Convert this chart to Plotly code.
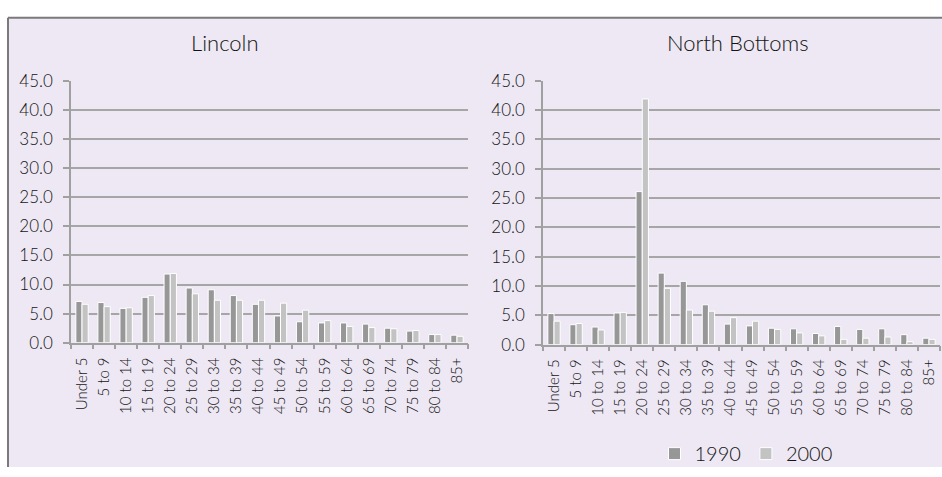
import plotly.graph_objects as go

categories = ["Under 5", "5 to 9", "10 to 14", "15 to 19", "20 to 24", "25 to 29",
              "30 to 34", "35 to 39", "40 to 44", "45 to 49", "50 to 54", "55 to 59",
              "60 to 64", "65 to 69", "70 to 74", "75 to 79", "80 to 84", "85+"]

lincoln_1990 = [7.1, 6.9, 5.9, 7.8, 11.8, 9.4, 9.1, 8.1, 6.6, 4.6, 3.6, 3.4, 3.4, 3.2, 2.5, 2.0, 1.4, 1.3]
lincoln_2000 = [6.6, 6.2, 6.0, 8.1, 11.9, 8.4, 7.3, 7.3, 7.3, 6.8, 5.6, 3.8, 2.8, 2.6, 2.4, 2.1, 1.4, 1.1]
north_1990 = [5.3, 3.4, 3.0, 5.4, 26.1, 12.2, 10.8, 6.8, 3.5, 3.2, 2.8, 2.7, 1.9, 3.1, 2.6, 2.7, 1.7, 1.1]
north_2000 = [4.0, 3.6, 2.5, 5.5, 41.9, 9.6, 5.9, 5.7, 4.6, 4.0, 2.6, 2.0, 1.5, 0.9, 1.1, 1.3, 0.5, 0.9]

panel_titles = ["Lincoln", "North Bottoms"]
series_names = ["1990", "2000"]
y_ticks = [0, 5, 10, 15, 20, 25, 30, 35, 40, 45]

W, H = 942, 477
C1990 = "#979797"
C2000 = "#C3C3C3"
BG = "#EDE8F3"
FONT = "Lato"
WEIGHT = 300
TXT = "#141414"

fig = go.Figure()
fig.add_trace(go.Bar(x=categories, y=lincoln_1990, name=series_names[0], marker=dict(color=C1990, line=dict(color="white", width=1)),
                     xaxis="x", yaxis="y", legendgroup="a"))
fig.add_trace(go.Bar(x=categories, y=lincoln_2000, name=series_names[1], marker=dict(color=C2000, line=dict(color="white", width=1)),
                     xaxis="x", yaxis="y", legendgroup="b"))
fig.add_trace(go.Bar(x=categories, y=north_1990, name=series_names[0], marker=dict(color=C1990, line=dict(color="white", width=1)),
                     xaxis="x2", yaxis="y2", showlegend=False, legendgroup="a"))
fig.add_trace(go.Bar(x=categories, y=north_2000, name=series_names[1], marker=dict(color=C2000, line=dict(color="white", width=1)),
                     xaxis="x2", yaxis="y2", showlegend=False, legendgroup="b"))

def px_x(p):
    return p / W

def px_y(p):
    return (H - p) / H

xcommon = dict(type="category", showgrid=False, showline=True, linecolor="#A0A0A0", linewidth=1.5,
               ticks="outside", ticklen=5, tickcolor="#A0A0A0", tickwidth=1.5, tickson="boundaries",
               ticklabelstandoff=7,
               tickangle=-90, tickfont=dict(family=FONT, size=15, color=TXT, weight=WEIGHT), fixedrange=True)
ycommon = dict(range=[0, 45], tickvals=y_ticks, tickformat=".1f", showgrid=True, gridcolor="#A6A6A6", gridwidth=1.5,
               showline=True, linecolor="#A0A0A0", linewidth=1.5, ticks="outside", ticklen=6, tickcolor="#A0A0A0",
               tickwidth=1.5, zeroline=False, ticklabelstandoff=7,
               tickfont=dict(family=FONT, size=17, color=TXT, weight=WEIGHT),
               fixedrange=True)

fig.update_layout(
    autosize=True,
    margin=dict(l=0, r=0, t=0, b=0),
    paper_bgcolor="white",
    plot_bgcolor="rgba(0,0,0,0)",
    barmode="group",
    bargap=0.44,
    bargroupgap=0.0,
    xaxis=dict(domain=[px_x(71), px_x(468)], anchor="y", **xcommon),
    yaxis=dict(domain=[px_y(347), px_y(73)], anchor="x", **ycommon),
    xaxis2=dict(domain=[px_x(543), px_x(940)], anchor="y2", **xcommon),
    yaxis2=dict(domain=[px_y(349), px_y(73)], anchor="x2", **ycommon),
    legend=dict(orientation="h", x=px_x(746), xanchor="center", y=px_y(463), yanchor="middle",
                font=dict(family=FONT, size=20, color=TXT, weight=WEIGHT), bgcolor="rgba(0,0,0,0)",
                itemwidth=30, traceorder="normal"),
    shapes=[
        dict(type="rect", xref="paper", yref="paper", x0=px_x(8), x1=1.0, y0=0, y1=px_y(7),
             fillcolor=BG, line=dict(width=0), layer="below"),
        dict(type="line", xref="paper", yref="paper", x0=px_x(8), x1=1.0, y0=px_y(7), y1=px_y(7),
             line=dict(color="#7A7A7A", width=2)),
        dict(type="line", xref="paper", yref="paper", x0=px_x(8), x1=px_x(8), y0=0, y1=px_y(7),
             line=dict(color="#7A7A7A", width=2)),
    ],
    annotations=[
        dict(text=panel_titles[0], xref="paper", yref="paper", x=px_x(225), y=px_y(33), showarrow=False,
             xanchor="center", yanchor="middle", font=dict(family=FONT, size=22, color=TXT, weight=WEIGHT)),
        dict(text=panel_titles[1], xref="paper", yref="paper", x=px_x(738), y=px_y(33), showarrow=False,
             xanchor="center", yanchor="middle", font=dict(family=FONT, size=22, color=TXT, weight=WEIGHT)),
    ],
)

post = ("document.documentElement.style.margin='0';document.documentElement.style.padding='0';"
        "document.documentElement.style.overflow='hidden';"
        "document.body.style.margin='0';document.body.style.padding='0';document.body.style.overflow='hidden';")

fig.write_html("out.html",
               default_width="942px",
               default_height="477px; position:absolute; top:0px; left:0px",
               config={"displayModeBar": False},
               post_script=post)
